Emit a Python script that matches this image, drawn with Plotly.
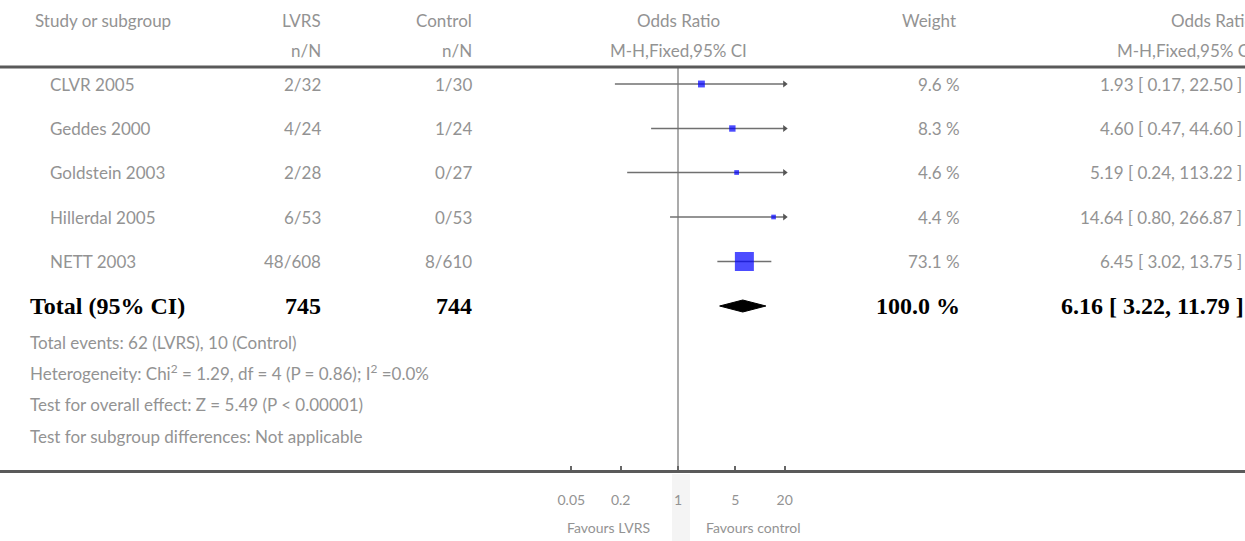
import math
import plotly.graph_objects as go

# ---- data ----
studies = ["CLVR 2005", "Geddes 2000", "Goldstein 2003", "Hillerdal 2005", "NETT 2003"]
lvrs_events = [2, 4, 2, 6, 48]
lvrs_total = [32, 24, 28, 53, 608]
ctrl_events = [1, 1, 0, 0, 8]
ctrl_total = [30, 24, 27, 53, 610]
weights = [9.6, 8.3, 4.6, 4.4, 73.1]
odds_ratio = [1.93, 4.60, 5.19, 14.64, 6.45]
ci_low = [0.17, 0.47, 0.24, 0.80, 3.02]
ci_high = [22.50, 44.60, 113.22, 266.87, 13.75]

total_label = "Total (95% CI)"
total_lvrs = 745
total_ctrl = 744
total_weight = 100.0
total_or = 6.16
total_low = 3.22
total_high = 11.79

footer_lines = [
    "Total events: 62 (LVRS), 10 (Control)",
    "Heterogeneity: Chi<sup>2</sup> = 1.29, df = 4 (P = 0.86); I<sup>2</sup> =0.0%",
    "Test for overall effect: Z = 5.49 (P < 0.00001)",
    "Test for subgroup differences: Not applicable",
]

tick_vals = [0.05, 0.2, 1, 5, 20]
tick_text = ["0.05", "0.2", "1", "5", "20"]
favours_left = "Favours LVRS"
favours_right = "Favours control"
axis_max = 20  # CIs beyond this are drawn with an arrow

# ---- layout geometry (pixels) ----
W, H = 1245, 541
AXIS_Y = 470          # y of the bottom axis line from the top
NULL_PX = 678         # x position of OR = 1
PX_PER_DECADE = 82.0
x_range = [-NULL_PX / PX_PER_DECADE, (W - NULL_PX) / PX_PER_DECADE]

row_y = [84, 128.5, 172.5, 217, 261.5]
total_y = 306
header_y = [20, 50]
rule_y = 67
footer_y = [342, 372, 404, 436]
favours_y = 527

GREY = "#939393"
LINE = "#707070"
SANS = "Lato, 'Open Sans', sans-serif"
SERIF = "'Liberation Serif', 'DejaVu Serif', serif"
FS = 17


def px(x):
    return x / W


fig = go.Figure()

# null line at OR = 1
fig.add_trace(go.Scatter(x=[1, 1], y=[rule_y, AXIS_Y], mode="lines",
                         line=dict(color="#ababab", width=2), hoverinfo="skip"))

# confidence intervals
for y, lo, hi in zip(row_y, ci_low, ci_high):
    fig.add_trace(go.Scatter(x=[lo, min(hi, axis_max)], y=[y, y], mode="lines",
                             line=dict(color=LINE, width=1.5), hoverinfo="skip"))
    if hi > axis_max:
        fig.add_trace(go.Scatter(x=[axis_max], y=[y], mode="markers",
                                 marker=dict(symbol="triangle-right", size=6, color="#555"),
                                 hoverinfo="skip"))

# study point estimates, square size scaled by weight
max_w = max(weights)
sizes = [19 * math.sqrt(w / max_w) for w in weights]
fig.add_trace(go.Scatter(x=odds_ratio, y=row_y, mode="markers",
                         marker=dict(symbol="square", size=sizes, color="#0000ff",
                                     line=dict(width=0)),
                         hoverinfo="skip"))

# pooled estimate diamond
dh = 6
fig.add_trace(go.Scatter(x=[total_low, total_or, total_high, total_or, total_low],
                         y=[total_y, total_y - dh, total_y, total_y + dh, total_y],
                         mode="lines", fill="toself", fillcolor="black",
                         line=dict(color="black", width=1), hoverinfo="skip"))

anns = []


def text(x, y, s, anchor="left", size=FS, color=GREY, family=SANS, yref="y"):
    anns.append(dict(x=px(x), y=y, xref="paper", yref=yref, text=s, showarrow=False,
                     xanchor=anchor, yanchor="middle",
                     font=dict(size=size, color=color, family=family)))


# headers
text(33, header_y[0], "Study or subgroup")
text(323, header_y[0], "LVRS", "right")
text(474, header_y[0], "Control", "right")
text(NULL_PX, header_y[0], "Odds Ratio", "center")
text(958, header_y[0], "Weight", "right")
text(1256, header_y[0], "Odds Ratio", "right")
text(323, header_y[1], "n/N", "right")
text(474, header_y[1], "n/N", "right")
text(NULL_PX, header_y[1], "M-H,Fixed,95% CI", "center")
text(1256, header_y[1], "M-H,Fixed,95% CI", "right")

# study rows
for i, name in enumerate(studies):
    y = row_y[i]
    text(48, y, name)
    text(323, y, f"{lvrs_events[i]}/{lvrs_total[i]}", "right")
    text(474, y, f"{ctrl_events[i]}/{ctrl_total[i]}", "right")
    text(962, y, f"{weights[i]:.1f} %", "right")
    text(1244, y, f"{odds_ratio[i]:.2f} [ {ci_low[i]:.2f}, {ci_high[i]:.2f} ]", "right")

# total row
bold = dict(size=24, color="black", family=SERIF)
text(28, total_y, f"<b>{total_label}</b>", **bold)
text(323, total_y, f"<b>{total_lvrs}</b>", "right", **bold)
text(474, total_y, f"<b>{total_ctrl}</b>", "right", **bold)
text(962, total_y, f"<b>{total_weight:.1f} %</b>", "right", **bold)
text(1246, total_y, f"<b>{total_or:.2f} [ {total_low:.2f}, {total_high:.2f} ]</b>", "right", **bold)

# footer statistics
for y, s in zip(footer_y, footer_lines):
    text(28, y, s)

# favours labels either side of the null line
text(652, (H - favours_y) / H, favours_left, "right", size=14, yref="paper")
text(704, (H - favours_y) / H, favours_right, "left", size=14, yref="paper")

fig.update_layout(
    width=W, height=H,
    margin=dict(l=0, r=0, t=0, b=0),
    paper_bgcolor="white", plot_bgcolor="white",
    showlegend=False,
    annotations=anns,
    shapes=[
        dict(type="line", xref="paper", yref="y", x0=0, x1=1, y0=rule_y, y1=rule_y,
             line=dict(color="#5a5a5a", width=3)),
        # faint band below the axis at the null value
        dict(type="rect", xref="paper", yref="paper", x0=px(672), x1=px(690),
             y0=0, y1=(H - AXIS_Y - 4) / H, fillcolor="#f4f4f4", line=dict(width=0),
             layer="below"),
    ],
    xaxis=dict(type="log", range=x_range, showgrid=False, zeroline=False,
               showline=True, linecolor="#5a5a5a", linewidth=3,
               tickvals=tick_vals, ticktext=tick_text, ticks="inside", ticklen=4,
               tickwidth=1.5, tickcolor="#666",
               tickfont=dict(size=14, color=GREY, family=SANS),
               ticklabelstandoff=15, fixedrange=True),
    yaxis=dict(domain=[(H - AXIS_Y) / H, 1], range=[AXIS_Y, 0], visible=False,
               showgrid=False, zeroline=False, fixedrange=True),
)

fig.write_html("out.html")
